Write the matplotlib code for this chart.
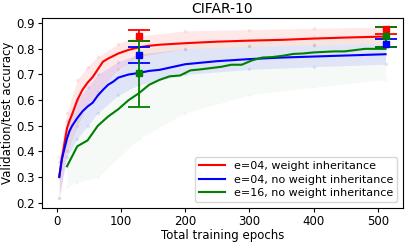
import numpy as np
import matplotlib

matplotlib.use('Agg')
import matplotlib.pyplot as plt

# Mean accuracy curves
red_x = [4, 8, 12, 16, 20, 24, 32, 40, 48, 56, 64, 72, 80, 88, 96, 112, 128,
         144, 160, 200, 250, 300, 350, 400, 450, 512]
red_y = [0.303, 0.37, 0.43, 0.49, 0.52, 0.545, 0.60, 0.64, 0.668, 0.69, 0.72,
         0.75, 0.762, 0.772, 0.782, 0.796, 0.806, 0.812, 0.816, 0.822, 0.828,
         0.832, 0.835, 0.84, 0.844, 0.848]

blue_x = red_x
blue_y = [0.30, 0.37, 0.41, 0.45, 0.48, 0.50, 0.53, 0.556, 0.575, 0.59, 0.618,
          0.64, 0.66, 0.672, 0.688, 0.70, 0.706, 0.714, 0.718, 0.74, 0.752,
          0.76, 0.766, 0.77, 0.774, 0.779]

green_x = [16, 32, 48, 64, 80, 96, 112, 128, 144, 160, 176, 192, 208, 224,
           240, 256, 272, 288, 304, 320, 336, 352, 368, 384, 400, 416, 432,
           448, 464, 480, 496, 512]
green_y = [0.342, 0.42, 0.443, 0.50, 0.536, 0.565, 0.60, 0.627, 0.66, 0.679,
           0.693, 0.696, 0.716, 0.72, 0.725, 0.73, 0.738, 0.738, 0.755, 0.766,
           0.768, 0.773, 0.78, 0.782, 0.786, 0.788, 0.79, 0.79, 0.795, 0.80,
           0.80, 0.80]

# Spread of the individual runs (faint cloud)
band_x = [4, 16, 32, 48, 64, 96, 128, 200, 300, 400, 512]
red_lo = [0.22, 0.40, 0.50, 0.58, 0.63, 0.72, 0.77, 0.80, 0.81, 0.815, 0.82]
red_hi = [0.38, 0.55, 0.68, 0.73, 0.77, 0.82, 0.85, 0.87, 0.875, 0.88, 0.885]
blue_lo = [0.22, 0.38, 0.45, 0.50, 0.55, 0.62, 0.66, 0.70, 0.72, 0.73, 0.74]
blue_hi = [0.36, 0.52, 0.60, 0.65, 0.70, 0.75, 0.78, 0.80, 0.81, 0.815, 0.82]
green_band_x = [16, 32, 64, 128, 200, 300, 400, 512]
green_lo = [0.26, 0.28, 0.30, 0.45, 0.55, 0.62, 0.65, 0.68]
green_hi = [0.40, 0.52, 0.62, 0.80, 0.82, 0.84, 0.85, 0.85]

# Test accuracy with error bars
eb_x = [128, 512]
red_eb = [0.849, 0.876]
red_eb_lo = [0.83, 0.858]
red_eb_hi = [0.875, 0.886]
blue_eb = [0.777, 0.82]
blue_eb_lo = [0.743, 0.808]
blue_eb_hi = [0.809, 0.837]
green_eb = [0.704, 0.849]
green_eb_lo = [0.573, 0.806]
green_eb_hi = [0.831, 0.887]

series = [
    ("e=04, weight inheritance", "red", red_x, red_y, band_x, red_lo, red_hi,
     red_eb, red_eb_lo, red_eb_hi),
    ("e=04, no weight inheritance", "blue", blue_x, blue_y, band_x, blue_lo, blue_hi,
     blue_eb, blue_eb_lo, blue_eb_hi),
    ("e=16, no weight inheritance", "green", green_x, green_y, green_band_x,
     green_lo, green_hi, green_eb, green_eb_lo, green_eb_hi),
]

plt.rcParams['font.family'] = 'DejaVu Sans'
fig = plt.figure(figsize=(4.07, 2.44), dpi=100)
ax = fig.add_axes([0.103, 0.148, 0.887, 0.778])

# Faint clouds first
for label, color, x, y, bx, lo, hi, m, elo, ehi in series:
    alpha = 0.035 if color == "green" else 0.09
    ax.fill_between(bx, lo, hi, color=color, alpha=alpha, linewidth=0)
    ax.scatter(bx + bx, lo + hi, s=6, color=color, alpha=alpha, linewidths=0)

for label, color, x, y, bx, lo, hi, m, elo, ehi in series:
    ax.plot(x, y, color=color, lw=1.5, label=label)

for label, color, x, y, bx, lo, hi, m, elo, ehi in series:
    m = np.array(m)
    yerr = [m - np.array(elo), np.array(ehi) - m]
    ax.errorbar(eb_x, m, yerr=yerr, fmt='s', color=color, ms=5,
                capsize=8, elinewidth=1.3, capthick=1.3)

ax.set_xlim(-23, 539)
ax.set_ylim(0.18, 0.92)
ax.set_xticks([0, 100, 200, 300, 400, 500])
ax.set_yticks([0.2, 0.3, 0.4, 0.5, 0.6, 0.7, 0.8, 0.9])
ax.tick_params(labelsize=8.5, length=3, width=0.8, pad=2)
ax.set_title("CIFAR-10", fontsize=10, pad=4)
ax.set_xlabel("Total training epochs", fontsize=8.5, labelpad=1)
ax.set_ylabel("Validation/test accuracy", fontsize=8.5, labelpad=2)
ax.legend(loc="lower right", fontsize=8, handlelength=2.3,
          borderpad=0.4, labelspacing=0.3, framealpha=0.8)

fig.savefig("out.png", dpi=100)
